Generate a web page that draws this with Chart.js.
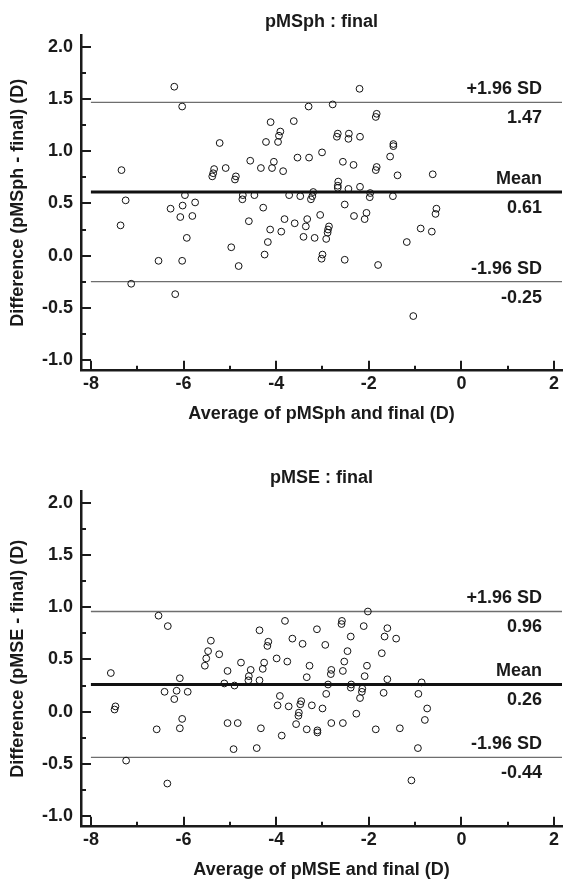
<!DOCTYPE html>
<html>
<head>
<meta charset="utf-8">
<script src="https://cdn.jsdelivr.net/npm/chart.js@4.4.0/dist/chart.umd.min.js"></script>
<style>
  body { margin: 0; background: #fff; }
  .plot { position: absolute; left: 0; width: 567px; height: 427px; }
</style>
</head>
<body>
<div class="plot" style="top:0"><canvas id="sphChart"></canvas></div>
<div class="plot" style="top:456px"><canvas id="mseChart"></canvas></div>
<script>
// pMSph vs final: average (x) and difference (y) per eye
const sphAvg = [-6.20, -6.03, -5.22, -7.34, -5.34, -5.36, -5.38, -5.09, -7.25, -5.97, -6.02, -5.75, -6.28, -6.07, -5.81, -7.36, -5.93, -4.97, -6.54, -6.03, -7.13, -6.18,
  -2.20, -3.30, -2.78, -1.83, -1.85, -4.12, -3.62, -3.91, -3.94, -4.22, -3.96, -2.67, -2.69, -2.43, -2.44, -2.19, -4.56, -4.33, -4.05, -4.09, -3.85, -3.54, -3.29, -3.01,
  -2.56, -2.33, -1.83, -1.85, -4.87, -4.89, -2.66, -2.67, -2.67, -2.44, -2.19, -4.72, -4.73, -4.47, -3.72, -3.48, -3.20, -3.22, -3.25, -1.97, -1.98, -4.28, -2.52, -4.59,
  -3.82, -3.60, -3.33, -3.36, -3.05, -2.32, -2.05, -2.09, -4.13, -3.89, -2.86, -2.88, -2.89, -2.92, -3.41, -3.17, -4.18, -4.25, -3.00, -3.02, -2.52, -1.80, -4.81,
  -1.47, -1.47, -1.54, -1.38, -0.62, -1.48, -0.54, -0.56, -0.88, -0.64, -1.18, -1.04];
const sphDiff = [1.62, 1.43, 1.08, 0.82, 0.83, 0.79, 0.76, 0.84, 0.53, 0.58, 0.48, 0.51, 0.45, 0.37, 0.38, 0.29, 0.17, 0.08, -0.05, -0.05, -0.27, -0.37,
  1.60, 1.43, 1.45, 1.36, 1.33, 1.28, 1.29, 1.19, 1.15, 1.09, 1.09, 1.17, 1.14, 1.17, 1.12, 1.14, 0.91, 0.84, 0.90, 0.84, 0.81, 0.94, 0.94, 0.99,
  0.90, 0.87, 0.85, 0.82, 0.76, 0.73, 0.71, 0.67, 0.65, 0.64, 0.66, 0.58, 0.54, 0.58, 0.58, 0.57, 0.61, 0.57, 0.54, 0.60, 0.56, 0.46, 0.49, 0.33,
  0.35, 0.31, 0.35, 0.28, 0.39, 0.38, 0.41, 0.35, 0.25, 0.23, 0.28, 0.25, 0.22, 0.16, 0.18, 0.17, 0.13, 0.01, 0.01, -0.03, -0.04, -0.09, -0.10,
  1.07, 1.05, 0.95, 0.77, 0.78, 0.57, 0.45, 0.40, 0.26, 0.23, 0.13, -0.58];

// pMSE vs final
const mseAvg = [-6.54, -6.34, -5.41, -5.47, -5.51, -5.54, -5.23, -7.57, -6.08, -5.05, -5.12, -4.90, -6.41, -6.15, -5.91, -6.20, -7.47, -7.49, -6.03, -6.58, -6.08, -5.05, -4.83, -4.92, -7.24,
  -2.02, -3.81, -2.58, -2.59, -4.36, -3.12, -2.11, -3.65, -4.17, -4.19, -3.43, -2.94, -2.39, -2.46, -1.72, -4.76, -3.99, -3.76, -4.26, -4.29, -4.55, -4.59, -4.60, -4.36,
  -3.28, -3.34, -2.53, -2.56, -2.81, -2.82, -2.04, -2.09, -2.88, -2.92, -2.38, -2.39, -2.14, -2.15, -2.19, -1.68, -3.92, -3.97, -3.73, -3.46, -3.48, -3.23, -3.00,
  -3.51, -3.52, -3.57, -3.34, -3.11, -3.11, -2.81, -2.56, -2.27, -1.85, -4.33, -3.88, -4.42,
  -1.60, -1.66, -1.41, -1.60, -0.86, -0.93, -0.74, -0.79, -1.33, -0.94, -6.35, -1.08];
const mseDiff = [0.92, 0.82, 0.68, 0.58, 0.51, 0.44, 0.55, 0.37, 0.32, 0.39, 0.27, 0.25, 0.19, 0.20, 0.19, 0.12, 0.05, 0.02, -0.07, -0.17, -0.16, -0.11, -0.11, -0.36, -0.47,
  0.96, 0.87, 0.87, 0.84, 0.78, 0.79, 0.82, 0.70, 0.67, 0.63, 0.65, 0.64, 0.72, 0.58, 0.56, 0.47, 0.51, 0.48, 0.47, 0.41, 0.40, 0.34, 0.30, 0.30,
  0.44, 0.33, 0.48, 0.39, 0.40, 0.36, 0.44, 0.34, 0.26, 0.17, 0.26, 0.23, 0.22, 0.19, 0.13, 0.18, 0.15, 0.06, 0.05, 0.10, 0.07, 0.06, 0.03,
  -0.01, -0.04, -0.12, -0.17, -0.18, -0.20, -0.11, -0.11, -0.02, -0.17, -0.16, -0.23, -0.35,
  0.80, 0.72, 0.70, 0.31, 0.28, 0.17, 0.03, -0.08, -0.16, -0.35, -0.69, -0.66];

// limits of agreement: +1.96 SD, mean, -1.96 SD
const sphLimits = [1.47, 0.61, -0.25];
const mseLimits = [0.96, 0.26, -0.44];
const limitNames = ['+1.96 SD', 'Mean', '-1.96 SD'];

const xMajorTicks = [-8, -6, -4, -2, 0, 2];
const xMinorTicks = [-7, -5, -3, -1, 1];
const yMajorTicks = [-1.0, -0.5, 0.0, 0.5, 1.0, 1.5, 2.0];
const yMinorTicks = [-0.75, -0.25, 0.25, 0.75, 1.25, 1.75];

const X_MIN = -8.214, X_MAX = 2.171;
const Y_MIN = -1.104, Y_MAX = 2.116;
const FONT = '"Liberation Sans", Arial, sans-serif';
const INK = '#1a1a1a';

// ticks pointing into the plot + labels on the limit lines
const blandAltmanDecor = {
  id: 'blandAltmanDecor',
  afterDatasetsDraw(chart) {
    const { ctx, chartArea, scales: { x, y } } = chart;
    const limits = chart.options.plugins.blandAltmanDecor.limits;
    ctx.save();
    ctx.strokeStyle = INK;
    ctx.lineWidth = 2;
    ctx.beginPath();
    xMajorTicks.forEach(v => {
      const px = Math.round(x.getPixelForValue(v));
      ctx.moveTo(px, chartArea.bottom); ctx.lineTo(px, chartArea.bottom - 10);
    });
    xMinorTicks.forEach(v => {
      const px = Math.round(x.getPixelForValue(v));
      ctx.moveTo(px, chartArea.bottom); ctx.lineTo(px, chartArea.bottom - 5);
    });
    yMajorTicks.forEach(v => {
      const py = Math.round(y.getPixelForValue(v));
      ctx.moveTo(chartArea.left, py); ctx.lineTo(chartArea.left + 10, py);
    });
    yMinorTicks.forEach(v => {
      const py = Math.round(y.getPixelForValue(v));
      ctx.moveTo(chartArea.left, py); ctx.lineTo(chartArea.left + 5, py);
    });
    ctx.stroke();

    ctx.fillStyle = INK;
    ctx.font = 'bold 18px ' + FONT;
    ctx.textAlign = 'right';
    ctx.textBaseline = 'middle';
    const tx = chartArea.right - 20;
    limits.forEach((v, i) => {
      const py = y.getPixelForValue(v);
      ctx.fillText(limitNames[i], tx, py - 13);
      ctx.fillText(v.toFixed(2), tx, py + 16);
    });
    ctx.restore();
  }
};

function makeChart(id, title, xLabel, yLabel, avg, diff, limits) {
  const points = avg.map((a, i) => ({ x: a, y: diff[i] }));
  const limitSets = limits.map((v, i) => ({
    type: 'line',
    data: [{ x: -8, y: v }, { x: X_MAX, y: v }],
    borderColor: i === 1 ? '#111' : '#6e6e6e',
    borderWidth: i === 1 ? 3 : 1.3,
    pointRadius: 0,
    order: 2
  }));
  const textFont = { family: FONT, size: 18, weight: 'bold' };

  return new Chart(document.getElementById(id), {
    type: 'scatter',
    data: {
      datasets: [
        ...limitSets,
        {
          data: points,
          pointRadius: 3.4,
          pointBorderWidth: 1,
          pointBorderColor: '#111',
          pointBackgroundColor: 'rgba(255,255,255,0)',
          order: 1
        }
      ]
    },
    options: {
      responsive: true,
      maintainAspectRatio: false,
      animation: false,
      layout: { padding: 0 },
      plugins: {
        legend: { display: false },
        tooltip: { enabled: false },
        title: {
          display: true,
          text: title,
          fullSize: false,
          color: INK,
          font: textFont,
          padding: { top: 11, bottom: 2.4 }
        },
        blandAltmanDecor: { limits: limits }
      },
      scales: {
        x: {
          type: 'linear',
          min: X_MIN,
          max: X_MAX,
          afterBuildTicks: s => { s.ticks = xMajorTicks.map(v => ({ value: v })); },
          afterFit: s => { s.height = 56.3; },
          grid: { display: false, drawTicks: false },
          border: { display: true, color: INK, width: 2.5 },
          ticks: {
            color: INK,
            padding: 3,
            font: textFont,
            callback: v => String(v)
          },
          title: {
            display: true,
            text: xLabel,
            color: INK,
            font: textFont,
            padding: { top: 0, bottom: 2 }
          }
        },
        y: {
          type: 'linear',
          min: Y_MIN,
          max: Y_MAX,
          afterBuildTicks: s => { s.ticks = yMajorTicks.map(v => ({ value: v })); },
          afterFit: s => { s.width = 81; },
          grid: { display: false, drawTicks: false },
          border: { display: true, color: INK, width: 2.5 },
          ticks: {
            color: INK,
            padding: 8,
            font: textFont,
            callback: v => v.toFixed(1)
          },
          title: {
            display: true,
            text: yLabel,
            color: INK,
            font: textFont,
            padding: { top: 7, bottom: 0 }
          }
        }
      }
    },
    plugins: [blandAltmanDecor]
  });
}

makeChart('sphChart', 'pMSph : final', 'Average of pMSph and final (D)', 'Difference (pMSph - final) (D)',
  sphAvg, sphDiff, sphLimits);
makeChart('mseChart', 'pMSE : final', 'Average of pMSE and final (D)', 'Difference (pMSE - final) (D)',
  mseAvg, mseDiff, mseLimits);
</script>
</body>
</html>
